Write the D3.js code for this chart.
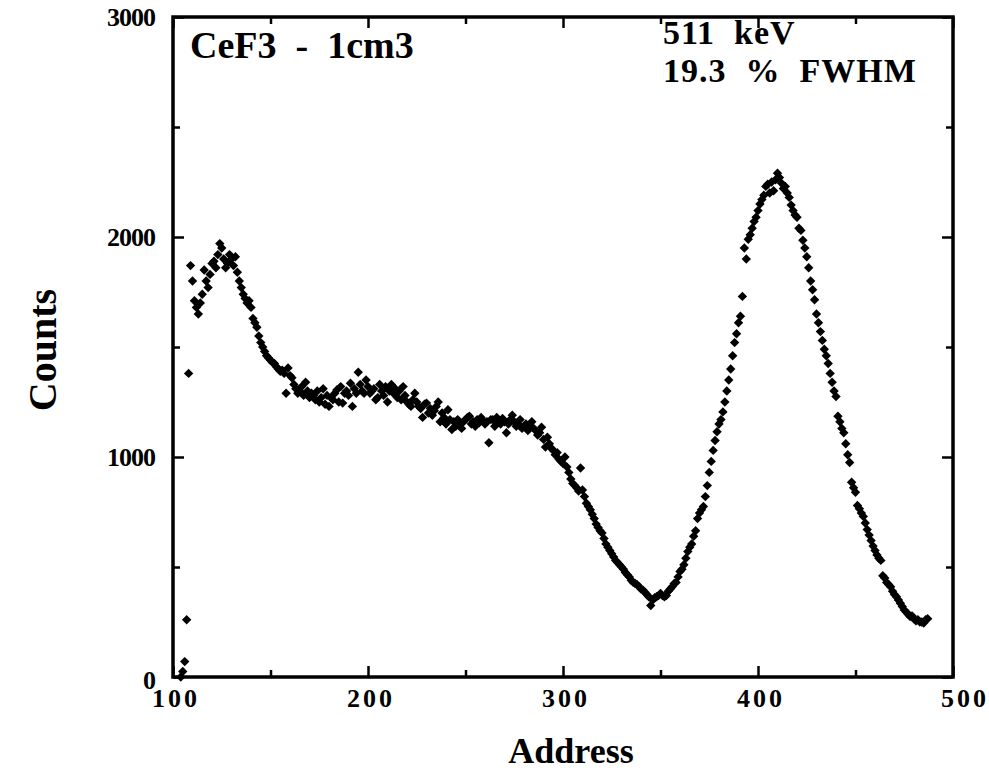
<!DOCTYPE html>
<html>
<head>
<meta charset="utf-8">
<script src="https://cdn.jsdelivr.net/npm/d3@7"></script>
<style>
  body { margin: 0; background: #fff; }
  text { font-family: "Liberation Serif", "DejaVu Serif", serif; font-weight: bold; fill: #000; }
</style>
</head>
<body>
<div class="spectrum"></div>
<script>
// channel counts; each segment starts at the given address
var lowStart = 104;
var lowCounts = [0, 25, 70, 260, 1380, 1870, 1800, 1710, 1680, 1650,
  1700, 1740, 1850, 1800, 1770, 1830, 1880, 1890, 1860, 1920,
  1970, 1950, 1900, 1860, 1880, 1920, 1900, 1870, 1910, 1840,
  1800, 1770, 1740, 1720, 1700, 1710, 1680, 1630, 1610, 1590,
  1550, 1520, 1500, 1480, 1460, 1450, 1440, 1430, 1425, 1410,
  1400, 1390, 1395, 1380, 1290, 1405, 1370, 1360];
var comptonStart = 162;
var comptonCounts = [1330, 1310, 1290, 1300, 1320, 1280, 1340, 1300, 1270,
  1290, 1280, 1260, 1300, 1250, 1270, 1310, 1240, 1280, 1230,
  1270, 1260, 1290, 1305, 1250, 1320, 1245, 1290, 1300, 1280,
  1335, 1230, 1310, 1290, 1385, 1330, 1300, 1290, 1350, 1320,
  1290, 1300, 1310, 1260, 1270, 1330, 1300, 1280, 1320, 1250,
  1300, 1330, 1290, 1310, 1270, 1300, 1260, 1320, 1280, 1250,
  1240, 1230, 1260, 1290, 1250, 1230, 1220, 1180, 1240, 1245,
  1200, 1220, 1190, 1210, 1230, 1250, 1160, 1200, 1180, 1150,
  1215, 1170, 1125, 1160, 1140, 1170, 1150, 1130, 1160, 1170,
  1180, 1185, 1150, 1160, 1140, 1170, 1155, 1180, 1165, 1150,
  1160, 1065, 1170, 1170, 1140, 1180, 1160, 1150, 1175, 1160,
  1110, 1150, 1170, 1190, 1160, 1140, 1150, 1170, 1130, 1140,
  1150, 1120, 1140, 1160, 1130, 1120, 1100, 1110, 1135, 1080];
var valleyStart = 291;
var valleyCounts = [1045, 1090, 1060, 1040, 1030, 1010, 1020, 990, 980, 970,
  1000, 955, 930, 900, 880, 870, 860, 845, 950, 850,
  820, 790, 775, 760, 740, 720, 695, 680, 665, 655,
  630, 605, 590, 575, 560, 545, 530, 520, 510, 500,
  490, 475, 465, 455, 440, 430, 425, 420, 410, 400,
  395, 385, 375, 365, 325, 350, 360, 365, 370, 380,
  370, 365, 370, 390, 400, 410, 425, 430, 455, 480,
  490, 510, 540, 570, 590, 605, 640, 665, 720, 745,
  760, 775, 820, 870, 930, 980, 1030, 1075, 1115, 1150];
var peakStart = 381;
var peakCounts = [1170, 1205, 1250, 1300, 1350, 1400, 1460, 1520, 1560, 1610,
  1640, 1730, 1950, 1900, 1990, 2010, 2040, 2070, 2090, 2120,
  2150, 2170, 2190, 2230, 2240, 2200, 2250, 2210, 2260, 2290,
  2270, 2245, 2220, 2230, 2200, 2180, 2145, 2120, 2100, 2090,
  2040, 2030, 1985, 1950, 1910, 1860, 1800, 1760, 1715, 1650,
  1610, 1570, 1530, 1490, 1460, 1425, 1380, 1340, 1300, 1275,
  1185, 1160, 1130, 1110, 1060, 1010, 975, 885, 860, 840,
  780, 765, 745, 730, 700, 670, 645, 620, 595, 575,
  555, 540, 530, 460, 450, 430, 420, 410, 390, 375,
  365, 350, 335, 320, 305, 295, 285, 275, 278, 265,
  255, 260, 250, 250, 245, 260, 265];

var xMajor = [100, 200, 300, 400, 500];
var xMinor = [150, 250, 350, 450];
var yMajor = [0, 1000, 2000, 3000];
var yMinor = [500, 1500, 2500];

function buildSpectrum() {
    var width = 989, height = 774;
    var frame = {left: 173, right: 953, top: 17, bottom: 677};

    var svg = d3.select(".spectrum").append("svg")
        .attr("width", width)
        .attr("height", height);

    var x = d3.scaleLinear().domain([100, 500]).range([frame.left, frame.right]);
    var y = d3.scaleLinear().domain([0, 3000]).range([frame.bottom, frame.top]);

    // flatten the segments into points
    var data = [];
    [[lowStart, lowCounts], [comptonStart, comptonCounts],
     [valleyStart, valleyCounts], [peakStart, peakCounts]].forEach(function (seg) {
        seg[1].forEach(function (c, i) {
            data.push({address: seg[0] + i, counts: c});
        });
    });

    // inward ticks on all four sides
    function ticks(axis, values, size, transform) {
        var g = svg.append("g")
            .attr("transform", transform)
            .call(axis.tickValues(values).tickSize(-size).tickFormat(""));
        g.select(".domain").remove();
        g.selectAll("line").attr("stroke", "#000").attr("stroke-width", 2.5);
    }
    ticks(d3.axisBottom(x), xMajor, 11, "translate(0," + frame.bottom + ")");
    ticks(d3.axisBottom(x), xMinor, 7, "translate(0," + frame.bottom + ")");
    ticks(d3.axisTop(x), xMajor, 11, "translate(0," + frame.top + ")");
    ticks(d3.axisTop(x), xMinor, 7, "translate(0," + frame.top + ")");
    ticks(d3.axisLeft(y), yMajor, 11, "translate(" + frame.left + ",0)");
    ticks(d3.axisLeft(y), yMinor, 7, "translate(" + frame.left + ",0)");
    ticks(d3.axisRight(y), yMajor, 11, "translate(" + frame.right + ",0)");
    ticks(d3.axisRight(y), yMinor, 7, "translate(" + frame.right + ",0)");

    // frame
    svg.append("rect")
        .attr("x", frame.left)
        .attr("y", frame.top)
        .attr("width", frame.right - frame.left)
        .attr("height", frame.bottom - frame.top)
        .attr("fill", "none")
        .attr("stroke", "#000")
        .attr("stroke-width", 3.5);

    // tick labels
    svg.append("g").selectAll("text")
        .data(xMajor)
        .enter().append("text")
        .attr("x", function (d) { return d === 500 ? x(d) + 12 : x(d) + 3; })
        .attr("y", 707)
        .attr("text-anchor", "middle")
        .style("font-size", "26px")
        .style("letter-spacing", "3px")
        .text(function (d) { return d; });

    svg.append("g").selectAll("text")
        .data(yMajor)
        .enter().append("text")
        .attr("x", 155)
        .attr("y", function (d) { return d === 0 ? y(d) + 12 : y(d) + 9; })
        .attr("text-anchor", "end")
        .style("font-size", "26px")
        .style("letter-spacing", "-1px")
        .text(function (d) { return d; });

    // data points as diamonds
    svg.append("g").selectAll("path")
        .data(data)
        .enter().append("path")
        .attr("d", d3.symbol().type(d3.symbolSquare).size(44))
        .attr("transform", function (d) {
            return "translate(" + x(d.address) + "," + y(d.counts) + ") rotate(45)";
        })
        .attr("fill", "#000");

    // annotations
    svg.append("text")
        .attr("x", 190)
        .attr("y", 58)
        .style("white-space", "pre")
        .style("font-size", "38px")
        .text("CeF3  -  1cm3");
    svg.append("text")
        .attr("x", 663)
        .attr("y", 44)
        .style("white-space", "pre")
        .style("font-size", "34px")
        .style("letter-spacing", "1px")
        .text("511  keV");
    svg.append("text")
        .attr("x", 663)
        .attr("y", 82)
        .style("white-space", "pre")
        .style("font-size", "34px")
        .style("letter-spacing", "1px")
        .text("19.3  %  FWHM");

    // axis titles
    svg.append("text")
        .attr("transform", "translate(56,350) rotate(-90)")
        .attr("text-anchor", "middle")
        .style("font-size", "40px")
        .text("Counts");
    svg.append("text")
        .attr("x", 571)
        .attr("y", 763)
        .attr("text-anchor", "middle")
        .style("font-size", "36px")
        .text("Address");
}

buildSpectrum();
</script>
</body>
</html>
